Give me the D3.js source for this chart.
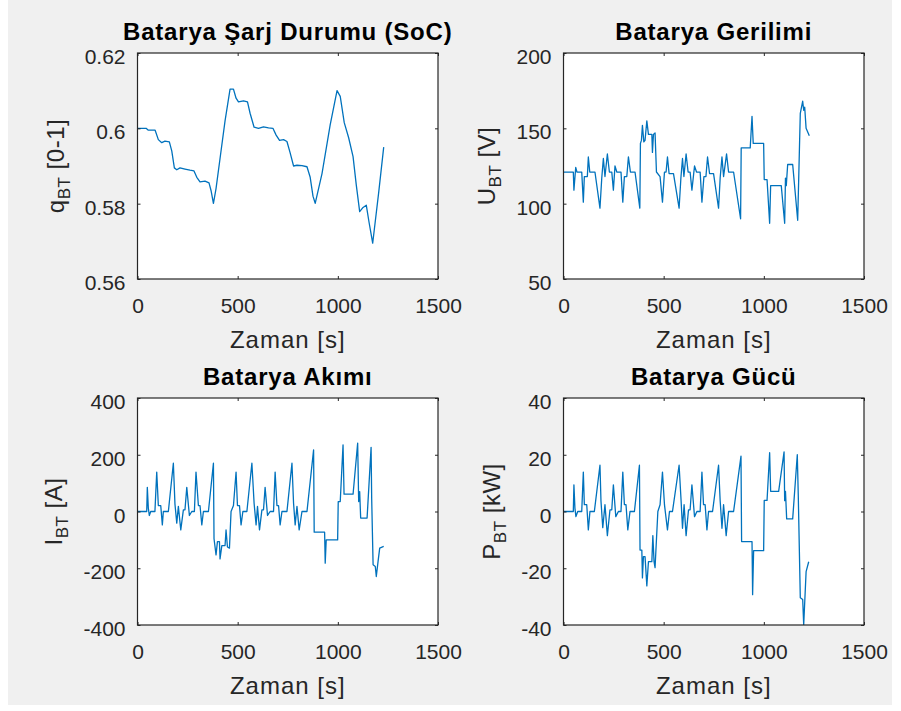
<!DOCTYPE html>
<html>
<head>
<meta charset="utf-8">
<script src="https://cdn.jsdelivr.net/npm/d3@7"></script>
<style>
    body { margin: 0; background: #ffffff; }
    svg { display: block; }
</style>
</head>
<body>
<svg id="chart" width="901" height="711"></svg>
<script>
// Battery state of charge [0-1]
const socTime = [0, 43, 54, 88, 104, 121, 137, 159, 171, 184, 196, 212, 237, 262, 282, 296, 312, 337, 357, 367, 379, 392, 412, 437, 462, 479, 492, 504, 529, 549, 562, 582, 604, 629, 654, 676, 692, 709, 729, 746, 762, 779, 796, 821, 846, 862, 876, 887, 921, 962, 996, 1012, 1032, 1054, 1076, 1092, 1109, 1126, 1142, 1156, 1174, 1204, 1229];
const socValues = [0.6, 0.6, 0.5995, 0.5995, 0.597, 0.5962, 0.5966, 0.5964, 0.594, 0.5895, 0.589, 0.5895, 0.5892, 0.5889, 0.5887, 0.587, 0.5858, 0.586, 0.5855, 0.5835, 0.5801, 0.584, 0.592, 0.602, 0.6104, 0.6104, 0.608, 0.607, 0.6073, 0.607, 0.604, 0.6003, 0.6, 0.6004, 0.6001, 0.6, 0.5982, 0.5968, 0.597, 0.5965, 0.5935, 0.59, 0.5902, 0.5901, 0.5898, 0.587, 0.582, 0.5801, 0.588, 0.601, 0.61, 0.6085, 0.6015, 0.5975, 0.5925, 0.585, 0.5779, 0.579, 0.5796, 0.575, 0.5695, 0.583, 0.595];

// Battery voltage [V]
const voltTime = [0, 49, 52, 61, 67, 91, 99, 104, 119, 124, 131, 157, 182, 191, 199, 207, 219, 229, 241, 249, 257, 266, 287, 296, 304, 316, 324, 334, 357, 381, 384, 389, 394, 401, 407, 416, 424, 441, 444, 449, 457, 464, 482, 494, 504, 512, 519, 527, 549, 577, 586, 594, 601, 612, 622, 632, 641, 654, 664, 682, 691, 701, 711, 719, 729, 749, 774, 782, 791, 799, 814, 824, 849, 884, 887, 932, 941, 947, 999, 1002, 1016, 1029, 1034, 1087, 1104, 1108, 1112, 1119, 1144, 1169, 1174, 1182, 1194, 1199, 1204, 1211, 1227];
const voltValues = [121, 121, 109, 124, 121, 121, 101, 118, 118, 131, 121, 121, 97, 117, 130, 118, 133, 121, 121, 109, 125, 121, 121, 101, 118, 118, 131, 121, 121, 97, 140, 142, 152, 141, 142, 155, 146, 146, 134, 146, 147, 121, 118, 101, 121, 121, 131, 120, 120, 97, 117, 130, 118, 133, 121, 121, 109, 125, 121, 121, 101, 118, 118, 131, 120, 120, 97, 117, 131, 118, 133, 121, 121, 90, 137, 137, 158, 140, 140, 116, 116, 87, 112, 112, 87, 117, 112, 126, 126, 89, 116, 160, 168, 162, 164, 150, 145];

// Battery current [A]
const currTime = [0, 46, 49, 54, 59, 66, 87, 96, 104, 116, 124, 129, 154, 179, 187, 196, 204, 216, 229, 237, 246, 259, 271, 284, 292, 304, 312, 321, 329, 354, 379, 382, 392, 399, 409, 412, 421, 437, 442, 449, 459, 467, 479, 492, 499, 509, 517, 526, 546, 571, 582, 592, 599, 609, 621, 629, 637, 649, 662, 679, 687, 696, 704, 712, 721, 746, 771, 779, 787, 796, 807, 821, 846, 879, 882, 934, 937, 942, 999, 1002, 1012, 1026, 1031, 1076, 1099, 1104, 1109, 1114, 1146, 1166, 1169, 1176, 1187, 1192, 1201, 1209, 1229];
const currValues = [0, 0, 85, 12, -14, 0, 0, 139, 21, 21, -47, 0, 0, 170, 26, -41, 18, -65, 6, 6, 85, -14, 0, 0, 139, 21, 21, -47, 0, 0, 170, -96, -153, -106, -106, -167, -120, -120, -65, -125, -129, 0, 21, 139, 21, 21, -47, 0, 0, 170, 29, -47, 18, -65, 6, 6, 85, -14, 0, 0, 139, 21, 21, -47, 0, 0, 170, 29, -47, 18, -65, 0, 0, 217, -73, -73, -182, -100, -100, 35, 35, 235, 61, 61, 241, 35, 70, -23, -23, 226, 45, -188, -194, -229, -175, -129, -123];

// Battery power [kW]
const powTime = [0, 49, 52, 57, 62, 71, 91, 99, 104, 116, 124, 132, 154, 182, 187, 196, 207, 219, 232, 241, 249, 261, 274, 287, 296, 304, 312, 321, 332, 354, 379, 382, 391, 394, 399, 407, 416, 424, 441, 446, 452, 457, 471, 482, 494, 504, 519, 529, 544, 577, 587, 594, 602, 612, 624, 632, 641, 654, 666, 682, 691, 699, 707, 716, 724, 744, 774, 782, 791, 799, 812, 824, 849, 886, 889, 941, 944, 949, 999, 1002, 1016, 1029, 1034, 1074, 1101, 1104, 1108, 1114, 1144, 1167, 1172, 1182, 1194, 1199, 1211, 1224];
const powValues = [0, 0, 9.4, 1.2, -1.8, 0, 0, 13.9, 2.4, 2.4, -6.5, 0, 0, 16.3, 3.8, -5.7, 2.4, -8.5, 0.6, 0.6, 9.4, -1.8, 0, 0, 13.9, 2.4, 2.4, -6.5, 0, 0, 16.3, -13.6, -13.6, -23.4, -15.9, -15.9, -26.2, -17.7, -17.7, -8.5, -17.7, -19.8, 0, 2.4, 13.9, 2.4, -6.5, 0, 0, 16.3, 3.8, -5.9, 2.4, -8.5, 0.6, 0.6, 9.4, -1.8, 0, 0, 13.9, 2.4, 2.4, -6.5, 0, 0, 16.3, 3.8, -5.9, 2.4, -8.5, 0, 0, 19.5, -10.6, -10.6, -29.3, -13.8, -13.8, 3.9, 3.9, 20.7, 7.1, 7.1, 21, 3.8, 7.1, -2.6, -2.6, 20, 5.4, -30.4, -31, -39.9, -21.2, -17.7];

// Tick labels
const timeTicks = [0, 500, 1000, 1500];
const socTicks = [0.56, 0.58, 0.6, 0.62];
const voltTicks = [50, 100, 150, 200];
const currTicks = [-400, -200, 0, 200, 400];
const powTicks = [-40, -20, 0, 20, 40];

const FONT = "'Liberation Sans', Arial, Helvetica, sans-serif";
const AXIS_COLOR = "#262626";
const LINE_COLOR = "#0072bd";

const svg = d3.select("#chart");

// figure background (grey window with a thin white border at the edges)
svg.append("rect").attr("x", 8).attr("y", 0).attr("width", 884).attr("height", 705).attr("fill", "#f0f0f0");

const panels = [
    { title: "Batarya Şarj Durumu (SoC)", sym: "q", unit: " [0-1]", time: socTime, values: socValues, ticks: socTicks, left: 137.5, top: 53, width: 300.5, height: 226 },
    { title: "Batarya Gerilimi", sym: "U", unit: " [V]", time: voltTime, values: voltValues, ticks: voltTicks, left: 563.5, top: 53, width: 300.5, height: 226 },
    { title: "Batarya Akımı", sym: "I", unit: " [A]", time: currTime, values: currValues, ticks: currTicks, left: 137.5, top: 398, width: 300.5, height: 227 },
    { title: "Batarya Gücü", sym: "P", unit: " [kW]", time: powTime, values: powValues, ticks: powTicks, left: 563.5, top: 398, width: 300.5, height: 227 }
];

const drawPanel = (p, i) => {
    const xScale = d3.scaleLinear().domain([0, 1500]).range([p.left, p.left + p.width]);
    const yScale = d3.scaleLinear().domain(d3.extent(p.ticks)).range([p.top + p.height, p.top]);

    const g = svg.append("g").attr("class", "panel-" + i);

    g.append("rect")
        .attr("x", p.left)
        .attr("y", p.top)
        .attr("width", p.width)
        .attr("height", p.height)
        .attr("fill", "#ffffff");

    g.append("clipPath")
        .attr("id", "clip-" + i)
        .append("rect")
        .attr("x", p.left)
        .attr("y", p.top)
        .attr("width", p.width)
        .attr("height", p.height);

    const points = p.time.map((t, k) => [t, p.values[k]]);
    const line = d3
        .line()
        .x((d) => xScale(d[0]))
        .y((d) => yScale(d[1]));

    g.append("path")
        .datum(points)
        .attr("clip-path", `url(#clip-${i})`)
        .attr("fill", "none")
        .attr("stroke", LINE_COLOR)
        .attr("stroke-width", 1.3)
        .attr("stroke-linejoin", "round")
        .attr("d", line);

    // axes, ticks pointing inwards on all four sides
    const bottom = g
        .append("g")
        .attr("transform", `translate(0,${p.top + p.height})`)
        .call(d3.axisBottom(xScale).tickValues(timeTicks).tickSize(-3).tickSizeOuter(0).tickPadding(19).tickFormat((d) => String(d)));
    const top = g
        .append("g")
        .attr("transform", `translate(0,${p.top})`)
        .call(d3.axisTop(xScale).tickValues(timeTicks).tickSize(-3).tickSizeOuter(0).tickFormat(""));
    const leftAxis = g
        .append("g")
        .attr("transform", `translate(${p.left},0)`)
        .call(d3.axisLeft(yScale).tickValues(p.ticks).tickSize(-3).tickSizeOuter(0).tickPadding(12).tickFormat((d) => String(d)));
    const right = g
        .append("g")
        .attr("transform", `translate(${p.left + p.width},0)`)
        .call(d3.axisRight(yScale).tickValues(p.ticks).tickSize(-3).tickSizeOuter(0).tickFormat(""));

    [bottom, top, leftAxis, right].forEach((a) => {
        a.select(".domain").remove();
        a.selectAll("line").attr("stroke", AXIS_COLOR);
        a.selectAll("text").attr("font-family", FONT).attr("font-size", 21).attr("fill", AXIS_COLOR);
    });
    leftAxis.selectAll("text").attr("dy", "0.5em");

    g.append("rect")
        .attr("x", p.left)
        .attr("y", p.top)
        .attr("width", p.width)
        .attr("height", p.height)
        .attr("fill", "none")
        .attr("stroke", AXIS_COLOR)
        .attr("stroke-width", 1.2);

    // title
    g.append("text")
        .attr("x", p.left + p.width / 2)
        .attr("y", p.top - 13)
        .attr("text-anchor", "middle")
        .attr("font-family", FONT)
        .attr("font-size", 24)
        .attr("font-weight", "bold")
        .attr("letter-spacing", 0.8)
        .attr("fill", "#000000")
        .text(p.title);

    // x label
    g.append("text")
        .attr("x", p.left + p.width / 2)
        .attr("y", p.top + p.height + 69)
        .attr("text-anchor", "middle")
        .attr("font-family", FONT)
        .attr("font-size", 24)
        .attr("letter-spacing", 1)
        .attr("fill", AXIS_COLOR)
        .text("Zaman [s]");

    // y label, placed just left of the widest tick label
    let maxWidth = 0;
    leftAxis.selectAll("text").each(function () {
        maxWidth = Math.max(maxWidth, this.getComputedTextLength());
    });
    const labelX = p.left - 12 - maxWidth - 21;
    const ylabel = g
        .append("text")
        .attr("transform", `translate(${labelX},${p.top + p.height / 2}) rotate(-90)`)
        .attr("text-anchor", "middle")
        .attr("font-family", FONT)
        .attr("font-size", 24)
        .attr("letter-spacing", 0.5)
        .attr("fill", AXIS_COLOR);
    ylabel.append("tspan").text(p.sym);
    ylabel.append("tspan").attr("dy", 6).attr("font-size", 17).text("BT");
    ylabel.append("tspan").attr("dy", -6).text(p.unit);
};

panels.forEach(drawPanel);
</script>
</body>
</html>
